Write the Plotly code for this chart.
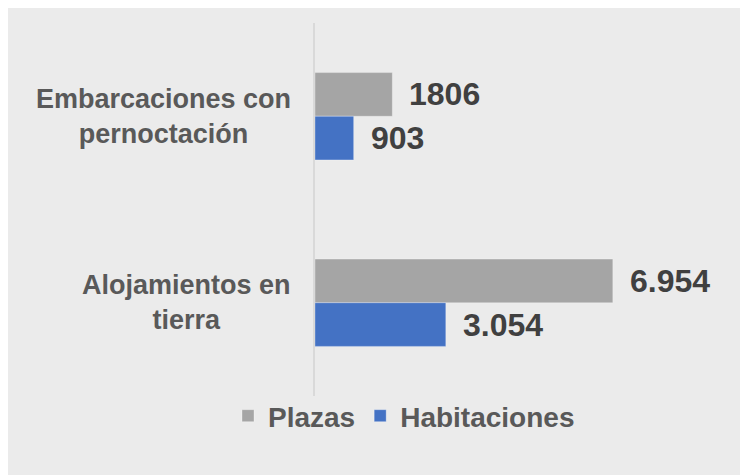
import plotly.graph_objects as go

categories = ["Embarcaciones con<br>pernoctación", "Alojamientos en<br>tierra"]
series_names = ["Plazas", "Habitaciones"]
plazas = [1806, 6954]
habitaciones = [903, 3054]
plazas_labels = ["1806", "6.954"]
habitaciones_labels = ["903", "3.054"]

# page is shown with an 8px body margin, so figure coords = reference coords - 8
W, H = 748, 475
L, R, T, B = 307, 26, 15, 87
pw, ph = W - L - R, H - T - B

def px_x(px):
    return (px - L) / pw

def px_y(py):
    return (H - B - py) / ph

FONT = "Liberation Sans, Arial, sans-serif"
GRAY = "#a5a5a5"
BLUE = "#4472c4"

fig = go.Figure()
fig.add_trace(go.Bar(
    name=series_names[0], y=categories, x=plazas, orientation="h",
    marker=dict(color=GRAY, line=dict(color="rgba(255,255,255,0.3)", width=1)),
))
fig.add_trace(go.Bar(
    name=series_names[1], y=categories, x=habitaciones, orientation="h",
    marker=dict(color=BLUE, line=dict(color="rgba(255,255,255,0.3)", width=1)),
))

annotations = []
for vals, labs, shift in [(plazas, plazas_labels, 22), (habitaciones, habitaciones_labels, -22)]:
    for c, v, t in zip(categories, vals, labs):
        annotations.append(dict(
            x=v, y=c, xref="x", yref="y", text=t, showarrow=False,
            xanchor="left", yanchor="middle", xshift=15, yshift=shift,
            font=dict(family=FONT, size=32, color="#404040", weight="bold"),
        ))
for c in categories:
    annotations.append(dict(
        x=px_x(285), y=c, xref="paper", yref="y", text=c, showarrow=False,
        xanchor="right", yanchor="middle", align="center",
        font=dict(family=FONT, size=27, color="#595959", weight="bold"),
    ))

fig.update_layout(
    width=W, height=H,
    margin=dict(l=L, r=R, t=T, b=B),
    paper_bgcolor="#ebebeb",
    plot_bgcolor="rgba(0,0,0,0)",
    barmode="group", bargap=0.532, bargroupgap=0,
    showlegend=True,
    legend=dict(
        orientation="h", x=px_x(220), y=px_y(408), xanchor="left", yanchor="middle",
        font=dict(family=FONT, size=28, color="#595959", weight="bold"),
        bgcolor="rgba(0,0,0,0)", itemclick=False, traceorder="normal",
    ),
    xaxis=dict(range=[0, 9690], showgrid=False, zeroline=False, showticklabels=False,
               showline=False, fixedrange=True),
    yaxis=dict(type="category", categoryorder="array", categoryarray=categories,
               range=[1.5, -0.5], showticklabels=False, showgrid=False,
               showline=True, linecolor="#d9d9d9", linewidth=2, zeroline=False),
    annotations=annotations,
    font=dict(family=FONT),
)

fig.write_html("out.html")
